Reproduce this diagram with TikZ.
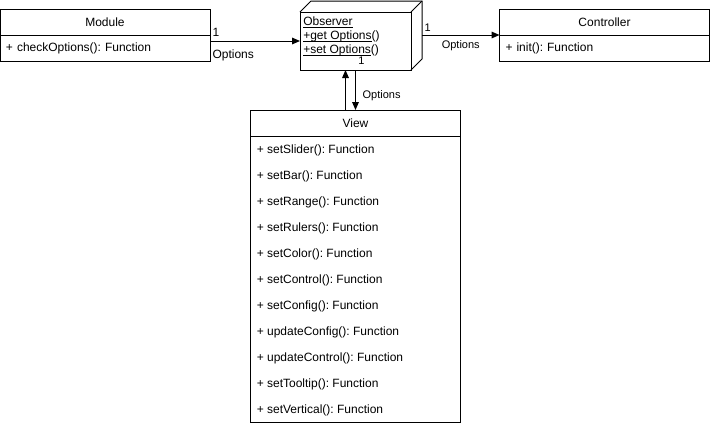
\documentclass[tikz,border=0pt]{standalone}
\usepackage{fontspec}
\setmainfont{Liberation Sans}
\usetikzlibrary{positioning,arrows.meta}

% underline at a fixed depth, as in the observer box
\newcommand{\obsul}[1]{\setbox0=\hbox{#1}\rlap{\rule[-1.5pt]{\wd0}{0.6pt}}\box0}

\begin{document}
\frenchspacing
\begin{tikzpicture}[x=0.75pt, y=-0.75pt,
    umlhead/.style={rectangle, draw, line width=0.75pt, minimum width=157.5pt, minimum height=19.5pt,
        inner sep=0pt, outer sep=0pt, font=\fontsize{9}{11}\selectfont},
    umlbody/.style={umlhead, align=left, inner xsep=4.5pt, text width=148.5pt},
    item/.style={anchor=west, inner sep=0pt, font=\fontsize{9}{11}\selectfont},
    arrow/.style={-{Triangle[length=6pt, width=5pt]}, line width=0.75pt},
    lbl/.style={inner sep=1.5pt, font=\fontsize{8.25}{10}\selectfont}
]
    \useasboundingbox (0,0) rectangle (711,426);

    % module
    \node[umlhead] (modhead) at (105,22) {Module};
    \node[umlbody, below=0pt of modhead] (modbody) {+ checkOptions(): Function};

    % controller
    \node[umlhead] (ctrlhead) at (604.5,22) {Controller};
    \node[umlbody, below=0pt of ctrlhead] (ctrlbody) {+ init(): Function};

    % observer (3d box)
    \node[draw, line width=0.75pt, minimum width=83.25pt, minimum height=43.5pt, outer sep=0pt] (obs) at (355.5,41) {};
    \draw[line width=0.75pt] (obs.north west) -- ++(11,-11) -- ++(111,0) -- ++(0,58) -- (obs.south east);
    \draw[line width=0.75pt] (obs.north east) -- ++(11,-11);
    \node[anchor=north west, align=left, inner sep=0pt, font=\fontsize{9}{10.5}\selectfont] (obstext)
        at ([shift={(3,5)}]obs.north west) {\obsul{Observer}\\ \obsul{+get Options}()\\ \obsul{+set Options}()};

    % view
    \node[umlhead] (viewhead) at (355.5,123) {View};
    \node[umlhead, minimum height=214.5pt, below=0pt of viewhead] (viewbody) {};
    \foreach \fn [count=\i] in {setSlider, setBar, setRange, setRulers, setColor, setControl,
        setConfig, updateConfig, updateControl, setTooltip, setVertical}
        \node[item] (v\i) at ([xshift=4.5pt, yshift={-(\i-0.5)*19.5pt-1pt}]viewbody.north west) {+ \fn(): Function};

    % connectors
    \draw[arrow] (obs.west -| modbody.east) -- (obs.west)
        node[pos=0, anchor=south west, inner sep=1.5pt, yshift=1.5pt, font=\fontsize{9}{11}\selectfont] {1}
        node[pos=0, anchor=north west, inner sep=1.5pt, yshift=-5pt, font=\fontsize{9}{11}\selectfont] {Options};
    \draw[arrow] ([shift={(11,-6)}]obs.east) -- (ctrlhead.south west)
        node[pos=0, lbl, anchor=south west, yshift=1pt] {1}
        node[midway, lbl, below, yshift=-2.5pt] {Options};
    \draw[arrow] ([xshift=-7.5pt]obs.south |- viewhead.north) -- ([xshift=-7.5pt]obs.south);
    \draw[arrow] (obs.south) -- (obs.south |- viewhead.north)
        node[midway, lbl, right, xshift=3.5pt, yshift=-4.5pt] {Options};
    \node[lbl, anchor=south west, xshift=0.5pt, yshift=2.25pt] (obsone) at (obs.south) {1};
\end{tikzpicture}
\end{document}
